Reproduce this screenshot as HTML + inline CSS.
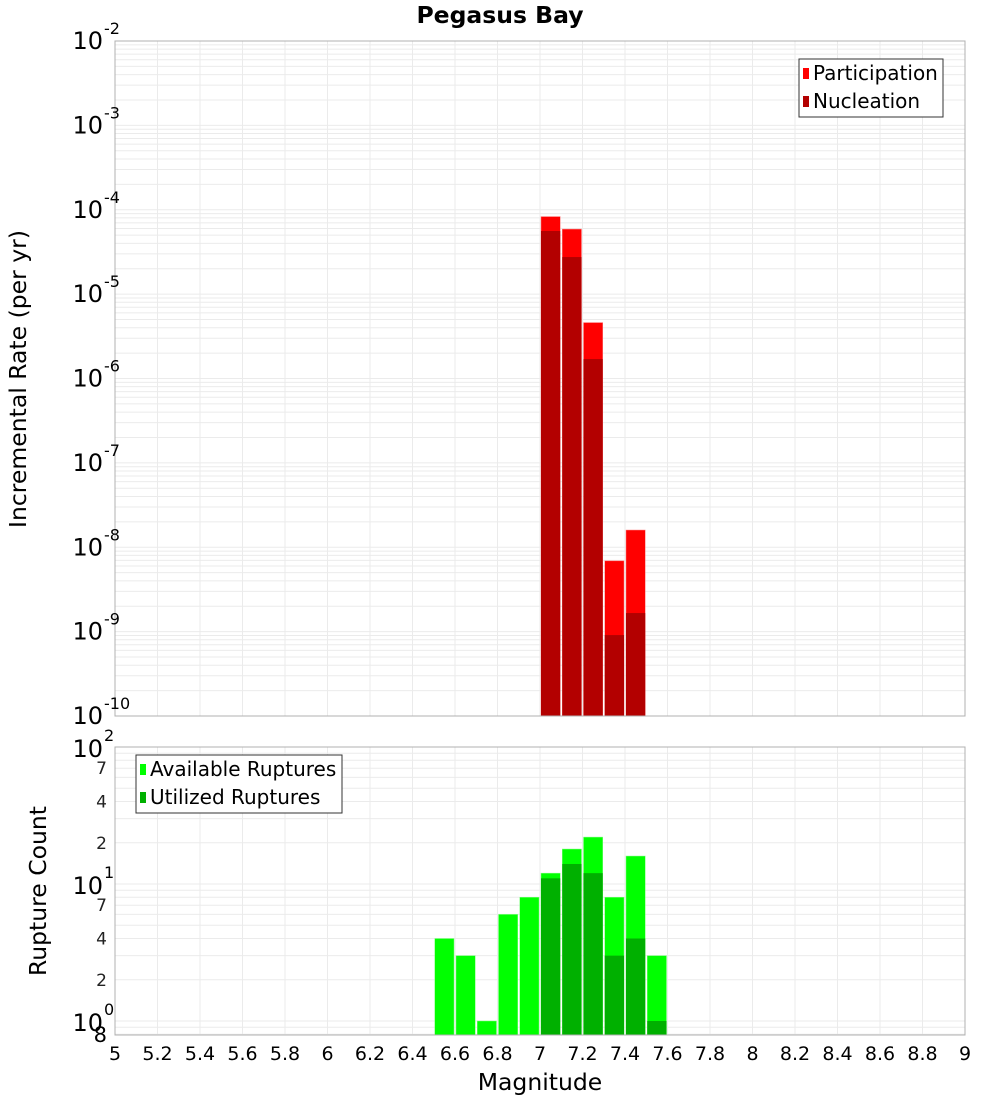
<!DOCTYPE html>
<html><head><meta charset="utf-8"><style>
html,body{margin:0;padding:0;background:#fff;}
svg{display:block;font-family:"DejaVu Sans","Liberation Sans",sans-serif;}
</style></head><body>
<svg id="chart" width="1000" height="1100" xmlns="http://www.w3.org/2000/svg"></svg>
<script>
const binStarts = [6.5,6.6,6.7,6.8,6.9,7.0,7.1,7.2,7.3,7.4,7.5];
const rateMags = [7.0,7.1,7.2,7.3,7.4];
const participation = [8.3e-5,5.9e-5,4.6e-6,6.9e-9,1.6e-8];
const nucleation = [5.6e-5,2.75e-5,1.7e-6,9.1e-10,1.66e-9];
const available = [4,3,1,6,8,12,18,22,8,16,3];
const utilized = [null,null,null,null,null,11,14,12,3,4,1];
const xTicks = [5,5.2,5.4,5.6,5.8,6,6.2,6.4,6.6,6.8,7,7.2,7.4,7.6,7.8,8,8.2,8.4,8.6,8.8,9];
const topExps = [-2,-3,-4,-5,-6,-7,-8,-9,-10];
const botExps = [2,1,0];
const botMinor = [7,4,2];

const svg = document.getElementById('chart');
const NS = 'http://www.w3.org/2000/svg';
function mk(tag, attrs, parent){const e=document.createElementNS(NS,tag);for(const k in attrs)e.setAttribute(k,attrs[k]);(parent||svg).appendChild(e);return e;}

const X0=115,X1=965;
const xs = m => X0 + (m-5)/4*(X1-X0);
const T0=41,T1=716;
const yTop = v => T0 + (-2 - Math.log10(v))/8*(T1-T0);
const B0=747,B1=1035, BD=137;
const yBot = v => B0 + (2 - Math.log10(v))*BD;

function grid(y0,y1,yf,decades){
  const g=mk('g',{});
  
  
  xTicks.forEach(t=>{if(t>5&&t<9)mk('line',{x1:xs(t),x2:xs(t),y1:y0,y2:y1,stroke:'#ebebeb','stroke-width':1},g);});
  decades.forEach(d=>{for(let k=1;k<=9;k++){const v=k*Math.pow(10,d);const y=yf(v);if(y>y0&&y<y1)mk('line',{x1:X0,x2:X1,y1:y,y2:y,stroke:'#ebebeb','stroke-width':1},g);}});
}
grid(T0,T1,yTop,[-10,-9,-8,-7,-6,-5,-4,-3]);
grid(B0,B1,yBot,[-1,0,1]);

let t=mk('text',{x:500,y:23,'text-anchor':'middle','font-size':23.5,'font-weight':'bold'});t.textContent='Pegasus Bay';


const bw=(X1-X0)/40;
rateMags.forEach((m,i)=>{
  let r=mk('rect',{x:xs(m)+1,y:yTop(participation[i]),width:bw-2,height:T1-yTop(participation[i]),fill:'#ff0000',stroke:'#ff8080','stroke-width':0.5});
  
  r=mk('rect',{x:xs(m)+1,y:yTop(nucleation[i]),width:bw-2,height:T1-yTop(nucleation[i]),fill:'#b30000'});
  
});
binStarts.forEach((m,i)=>{
  let r=mk('rect',{x:xs(m)+1,y:yBot(available[i]),width:bw-2,height:B1-yBot(available[i]),fill:'#00ff00',stroke:'#80ff80','stroke-width':0.5});
  
  if(utilized[i]){r=mk('rect',{x:xs(m)+1,y:yBot(utilized[i]),width:bw-2,height:B1-yBot(utilized[i]),fill:'#00b000'});
  }
});

let f=mk('rect',{x:X0,y:T0,width:X1-X0,height:T1-T0,fill:'none',stroke:'#b0b0b0'});

f=mk('rect',{x:X0,y:B0,width:X1-X0,height:B1-B0,fill:'none',stroke:'#b0b0b0'});


topExps.forEach(e=>{
  const y=yTop(Math.pow(10,e));
  const tx=mk('text',{x:103,y:y+8,'text-anchor':'end','font-size':24});tx.textContent='10';
  
  const s=mk('text',{x:104,y:y-7,'font-size':16});s.textContent=String(e);
  
});
botExps.forEach(e=>{
  const y=yBot(Math.pow(10,e));
  const tx=mk('text',{x:103,y:y+10,'text-anchor':'end','font-size':24});tx.textContent='10';
  
  const s=mk('text',{x:104,y:y-6,'font-size':16});s.textContent=String(e);
  
});
[1,0].forEach(d=>botMinor.forEach(k=>{
  const y=yBot(k*Math.pow(10,d));
  const tx=mk('text',{x:107,y:y+6,'text-anchor':'end','font-size':17,fill:'#222'});tx.textContent=String(k);
  
}));
t=mk('text',{x:107,y:1042,'text-anchor':'end','font-size':21});t.textContent='8';


xTicks.forEach(v=>{
  const tx=mk('text',{x:xs(v),y:1060,'text-anchor':'middle','font-size':19});tx.textContent=String(v);
  
});
t=mk('text',{x:540,y:1090,'text-anchor':'middle','font-size':23.5});t.textContent='Magnitude';

t=mk('text',{x:0,y:0,'text-anchor':'middle','font-size':23.5,transform:'translate(26,379) rotate(-90)'});t.textContent='Incremental Rate (per yr)';

t=mk('text',{x:0,y:0,'text-anchor':'middle','font-size':23.5,transform:'translate(46,891) rotate(-90)'});t.textContent='Rupture Count';


function legend(x,y,w,items,name){
  const g=mk('g',{});
  
  mk('rect',{x:x,y:y,width:w,height:58,fill:'#fff',stroke:'#333','stroke-width':1},g);
  items.forEach((it,i)=>{
    const yy=y+14+i*28;
    mk('rect',{x:x+4,y:yy-5,width:6,height:11,fill:it[1]},g);
    const tx=mk('text',{x:x+14,y:yy+7,'font-size':20},g);tx.textContent=it[0];
    
  });
}
legend(799,59,144,[['Participation','#ff0000'],['Nucleation','#b30000']],'rate-legend');
legend(136,755,206,[['Available Ruptures','#00ff00'],['Utilized Ruptures','#00b000']],'count-legend');
</script>
</body></html>
